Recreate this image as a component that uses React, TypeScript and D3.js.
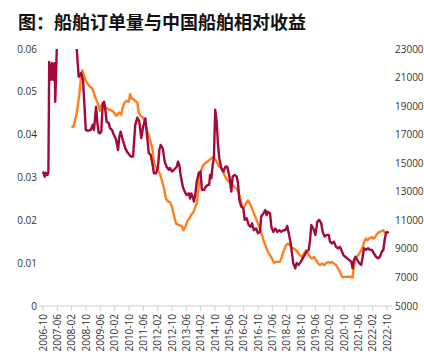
import React from "react";
import * as d3 from "d3";

// time in decimal years, value
const orderDates: number[] = [
  2006.75, 2006.83, 2006.89, 2006.95, 2007.0, 2007.04, 2007.11, 2007.17, 2007.23, 2007.29, 2007.32, 2007.39,
  2007.47, 2007.62, 2007.8, 2008.0, 2008.18, 2008.32, 2008.41, 2008.52, 2008.61, 2008.68, 2008.74, 2008.84,
  2008.97, 2009.06, 2009.12, 2009.22, 2009.28, 2009.34, 2009.4, 2009.46, 2009.53, 2009.59, 2009.65, 2009.71,
  2009.81, 2009.87, 2009.96, 2010.05, 2010.15, 2010.24, 2010.3, 2010.36, 2010.46, 2010.58, 2010.7, 2010.83,
  2010.94, 2011.04, 2011.14, 2011.23, 2011.32, 2011.41, 2011.51, 2011.57, 2011.67, 2011.76, 2011.85, 2011.91,
  2012.01, 2012.1, 2012.16, 2012.22, 2012.32, 2012.41, 2012.5, 2012.6, 2012.66, 2012.75, 2012.84, 2012.97,
  2013.03, 2013.09, 2013.15, 2013.25, 2013.34, 2013.43, 2013.53, 2013.59, 2013.65, 2013.71, 2013.77, 2013.83,
  2013.9, 2013.99, 2014.08, 2014.14, 2014.24, 2014.33, 2014.42, 2014.48, 2014.52, 2014.58, 2014.64, 2014.7,
  2014.76, 2014.83, 2014.89, 2014.95, 2015.04, 2015.14, 2015.23, 2015.32, 2015.42, 2015.51, 2015.57, 2015.66,
  2015.76, 2015.82, 2015.88, 2015.97, 2016.07, 2016.13, 2016.22, 2016.32, 2016.41, 2016.47, 2016.56, 2016.66,
  2016.75, 2016.84, 2016.9, 2017.0, 2017.09, 2017.15, 2017.21, 2017.31, 2017.37, 2017.46, 2017.55, 2017.65,
  2017.74, 2017.83, 2017.93, 2018.02, 2018.11, 2018.21, 2018.27, 2018.33, 2018.39, 2018.48, 2018.55, 2018.64,
  2018.74, 2018.83, 2018.92, 2019.01, 2019.11, 2019.17, 2019.23, 2019.32, 2019.42, 2019.51, 2019.6, 2019.69,
  2019.76, 2019.85, 2019.95, 2020.04, 2020.1, 2020.19, 2020.28, 2020.38, 2020.47, 2020.56, 2020.66, 2020.72,
  2020.81, 2020.9, 2021.0, 2021.09, 2021.15, 2021.21, 2021.28, 2021.37, 2021.46, 2021.55, 2021.62, 2021.68,
  2021.77, 2021.87, 2021.96, 2022.05, 2022.14, 2022.24, 2022.33, 2022.42, 2022.51, 2022.58, 2022.64, 2022.7,
  2022.76, 2022.83,
];
const orderValues: number[] = [
  0.0314, 0.0302, 0.0311, 0.0306, 0.0311, 0.057, 0.0528, 0.0567, 0.0528, 0.0567, 0.0477, 0.0598,
  0.066, 0.072, 0.078, 0.076, 0.068, 0.0599, 0.0535, 0.0544, 0.0528, 0.0467, 0.0411, 0.0409,
  0.0411, 0.0423, 0.0411, 0.0465, 0.0427, 0.0404, 0.0403, 0.0407, 0.0473, 0.0477, 0.0458, 0.043,
  0.0427, 0.0415, 0.0411, 0.0399, 0.0388, 0.0364, 0.0395, 0.0407, 0.0388, 0.0368, 0.0357, 0.0349,
  0.0349, 0.0423, 0.044, 0.043, 0.0392, 0.0419, 0.0438, 0.0407, 0.0357, 0.0353, 0.0329, 0.031,
  0.031, 0.0325, 0.0364, 0.0376, 0.0368, 0.0337, 0.0325, 0.0318, 0.0322, 0.0314, 0.0318, 0.0325,
  0.0337, 0.0329, 0.0306, 0.0279, 0.0267, 0.0259, 0.0263, 0.0251, 0.0263, 0.0255, 0.0244, 0.0259,
  0.029, 0.031, 0.0314, 0.0271, 0.0271, 0.0279, 0.0283, 0.0283, 0.0306, 0.0298, 0.0329, 0.0345,
  0.0458, 0.043, 0.0376, 0.0345, 0.0322, 0.0314, 0.0325, 0.0325, 0.0302, 0.0267, 0.0302, 0.0306,
  0.0302, 0.0287, 0.0248, 0.0232, 0.0228, 0.0201, 0.0205, 0.0189, 0.0185, 0.0193, 0.0177, 0.0181,
  0.017, 0.0173, 0.0209, 0.0216, 0.0224, 0.0212, 0.022, 0.0216, 0.0185, 0.0173, 0.0181, 0.0173,
  0.0177, 0.0173, 0.0177, 0.0177, 0.0187, 0.0162, 0.0146, 0.0123, 0.01, 0.0088, 0.01, 0.0096,
  0.0103, 0.0111, 0.0119, 0.0127, 0.0131, 0.0154, 0.0189, 0.0181, 0.0166, 0.0197, 0.0201, 0.0193,
  0.0173, 0.0162, 0.0166, 0.0166, 0.015, 0.0146, 0.015, 0.0138, 0.0135, 0.0138, 0.0127, 0.0119,
  0.0115, 0.0111, 0.0107, 0.0103, 0.0088, 0.0107, 0.0115, 0.0107, 0.01, 0.0096, 0.0115, 0.0135,
  0.0131, 0.0135, 0.0131, 0.0131, 0.0123, 0.0115, 0.0111, 0.0115, 0.0127, 0.0131, 0.0154, 0.017,
  0.0173, 0.017,
];

const stockDates: number[] = [
  2008.07, 2008.16, 2008.22, 2008.32, 2008.38, 2008.44, 2008.5, 2008.58, 2008.66, 2008.75, 2008.84, 2008.94,
  2009.03, 2009.09, 2009.15, 2009.25, 2009.34, 2009.4, 2009.46, 2009.55, 2009.62, 2009.68, 2009.77, 2009.87,
  2009.96, 2010.05, 2010.15, 2010.24, 2010.3, 2010.39, 2010.46, 2010.55, 2010.64, 2010.74, 2010.8, 2010.86,
  2010.95, 2011.04, 2011.14, 2011.2, 2011.29, 2011.39, 2011.48, 2011.57, 2011.67, 2011.76, 2011.85, 2011.91,
  2012.01, 2012.1, 2012.19, 2012.28, 2012.38, 2012.47, 2012.56, 2012.66, 2012.75, 2012.84, 2012.94, 2013.03,
  2013.12, 2013.21, 2013.28, 2013.37, 2013.46, 2013.55, 2013.65, 2013.74, 2013.83, 2013.9, 2013.99, 2014.08,
  2014.18, 2014.27, 2014.36, 2014.46, 2014.55, 2014.64, 2014.74, 2014.83, 2014.92, 2015.01, 2015.11, 2015.2,
  2015.29, 2015.39, 2015.48, 2015.57, 2015.66, 2015.76, 2015.85, 2015.91, 2016.0, 2016.1, 2016.19, 2016.28,
  2016.38, 2016.47, 2016.56, 2016.66, 2016.75, 2016.84, 2016.94, 2017.03, 2017.12, 2017.21, 2017.31, 2017.4,
  2017.49, 2017.59, 2017.68, 2017.77, 2017.86, 2017.96, 2018.05, 2018.15, 2018.24, 2018.33, 2018.42, 2018.52,
  2018.61, 2018.7, 2018.8, 2018.89, 2018.98, 2019.08, 2019.17, 2019.26, 2019.36, 2019.45, 2019.54, 2019.63,
  2019.73, 2019.82, 2019.91, 2020.01, 2020.1, 2020.19, 2020.28, 2020.38, 2020.47, 2020.56, 2020.66, 2020.72,
  2020.81, 2020.9, 2021.0, 2021.09, 2021.15, 2021.21, 2021.28, 2021.37, 2021.46, 2021.55, 2021.65, 2021.71,
  2021.77, 2021.83, 2021.92, 2022.02, 2022.11, 2022.2, 2022.3, 2022.39, 2022.48, 2022.58, 2022.67,
];
const stockValues: number[] = [
  17510, 17559, 17859, 18556, 19142, 19840, 20768, 21515, 21117, 20768, 20538, 20349,
  20259, 20070, 19721, 19373, 19024, 18675, 19024, 19142, 19024, 18905, 18793, 18745,
  18675, 18556, 18326, 18445, 18556, 18396, 18905, 19254, 19373, 19303, 19840, 19561,
  19491, 19373, 19254, 18556, 18326, 18208, 17977, 17398, 16931, 16463, 15884, 15068,
  14719, 14489, 14258, 13791, 13212, 12514, 12326, 12277, 11928, 11349, 10770, 10700,
  10651, 10603, 10303, 10533, 10930, 11119, 11398, 11538, 11928, 12165, 13324, 14370,
  14838, 14956, 15068, 15186, 15305, 15417, 15305, 15117, 14789, 14719, 14489, 14140,
  13861, 13721, 13631, 13442, 13324, 13212, 12975, 12626, 12047, 11928, 12165, 12396,
  12165, 11817, 11468, 11119, 10770, 10421, 9954, 9486, 9137, 8789, 8558, 8328,
  8021, 8091, 8091, 8091, 8440, 8907, 9256, 9375, 9256, 9026, 9026, 8907,
  8719, 8558, 8440, 8677, 8907, 8677, 8440, 8328, 8440, 8209, 7979, 7861,
  7979, 7861, 7979, 8091, 8021, 8091, 7979, 7861, 7630, 7393, 7044, 7002,
  7044, 7044, 7044, 7044, 7002, 7742, 8328, 8489, 8677, 8907, 9256, 9605,
  9723, 9605, 9723, 9835, 9723, 9835, 10072, 10184, 10233, 10303, 10114,
];

const title = "图：船舶订单量与中国船舶相对收益";
const leftTicks: number[] = [0, 0.01, 0.02, 0.03, 0.04, 0.05, 0.06];
const rightTicks: number[] = [5000, 7000, 9000, 11000, 13000, 15000, 17000, 19000, 21000, 23000];
const xTickStart = 2006.75;
const xTickCount = 25;
const xTickStepMonths = 8;

const W = 424;
const H = 359;

export default function App() {
  const x = d3.scaleLinear().domain([2006.75, 2022.75]).range([43, 387]);
  const yL = d3.scaleLinear().domain([0, 0.06]).range([306, 49]);
  const yR = d3.scaleLinear().domain([5000, 23000]).range([306, 49]);

  const orders = orderDates.map((t, i) => [t, orderValues[i]] as [number, number]);
  const stock = stockDates.map((t, i) => [t, stockValues[i]] as [number, number]);

  const lineL = d3.line<[number, number]>().x((d) => x(d[0])).y((d) => yL(d[1]));
  const lineR = d3.line<[number, number]>().x((d) => x(d[0])).y((d) => yR(d[1]));

  const xTicks = d3.range(xTickCount).map((k) => xTickStart + (k * xTickStepMonths) / 12);
  const fmt = (t: number) => {
    const totalMonths = Math.round(t * 12);
    const yr = Math.floor(totalMonths / 12);
    const mo = totalMonths - yr * 12 + 1;
    return `${yr}-${mo < 10 ? "0" + mo : mo}`;
  };
  const fmtL = (v: number) => (v === 0 ? "0" : d3.format(".2f")(v));

  const font = "'Open Sans', 'Noto Sans', Arial, sans-serif";

  return (
    <svg width={W} height={H} style={{ position: "absolute", left: 0, top: 0, background: "#fff" }}>
      <defs>
        <clipPath id="plotclip">
          <rect x={30} y={49} width={370} height={260} />
        </clipPath>
      </defs>
      <text
        x={18}
        y={29}
        fontFamily="'Noto Sans CJK SC', sans-serif"
        fontWeight={700}
        fontSize={18}
        fill="#111"
      >
        {title}
      </text>
      {/* left axis labels */}
      {leftTicks.map((v) => (
        <text key={"l" + v} x={37} y={yL(v)} dy="0.35em" textAnchor="end" fontSize={10} fontFamily={font} fill="#333">
          {fmtL(v)}
        </text>
      ))}
      {/* right axis labels */}
      {rightTicks.map((v) => (
        <text key={"r" + v} x={395} y={yR(v)} dy="0.35em" textAnchor="start" fontSize={10} fontFamily={font} fill="#333">
          {v}
        </text>
      ))}
      {/* x axis */}
      <line x1={40} x2={392} y1={306} y2={306} stroke="#d0d0d0" strokeWidth={1} />
      {xTicks.map((t) => (
        <g key={"x" + t}>
          <line x1={x(t)} x2={x(t)} y1={306} y2={311} stroke="#d0d0d0" strokeWidth={1} />
          <text
            transform={`translate(${x(t)},314) rotate(-90)`}
            dy="0.35em"
            textAnchor="end"
            fontSize={10}
            fontFamily={font}
            fill="#333"
          >
            {fmt(t)}
          </text>
        </g>
      ))}
      <g clipPath="url(#plotclip)">
        <path d={lineR(stock) || ""} fill="none" stroke="#FF7F1E" strokeWidth={2.4} strokeLinejoin="round" />
        <path d={lineL(orders) || ""} fill="none" stroke="#A3093A" strokeWidth={2.4} strokeLinejoin="round" />
      </g>
    </svg>
  );
}
